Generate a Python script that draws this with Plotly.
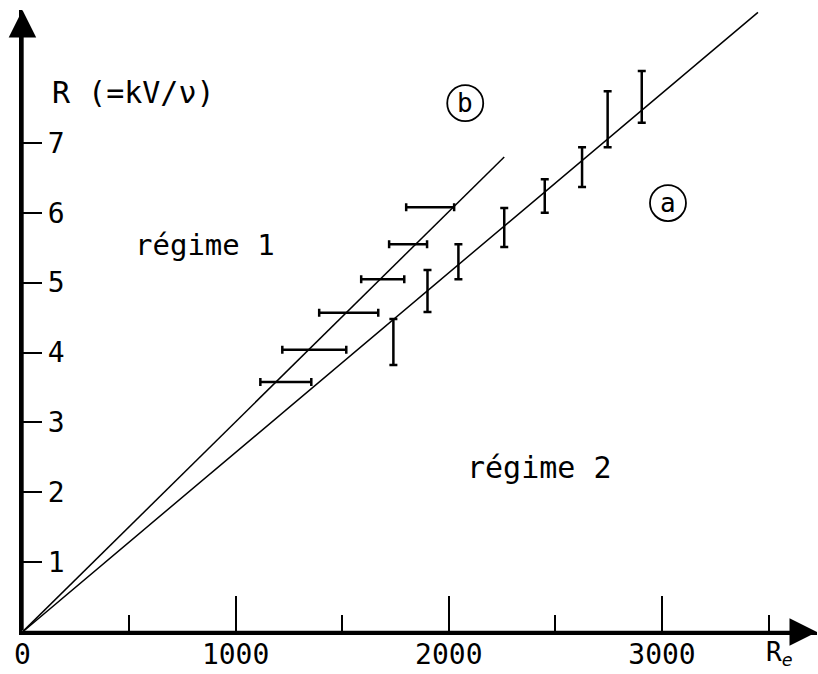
import plotly.graph_objects as go

# ---- data ----
# straight lines through the origin
line_a_re = [0, 3450]
line_a_r = [0, 8.87]
line_b_re = [0, 2260]
line_b_r = [0, 6.80]

# series (a): vertical error bars
va_re = [1740, 1900, 2045, 2260, 2450, 2625, 2745, 2905]
va_low = [3.82, 4.58, 5.05, 5.51, 6.00, 6.37, 6.94, 7.29]
va_high = [4.48, 5.18, 5.55, 6.07, 6.48, 6.94, 7.74, 8.03]

# series (b): horizontal error bars
hb_r = [3.58, 4.04, 4.57, 5.05, 5.55, 6.08]
hb_low = [1116, 1219, 1392, 1589, 1720, 1800]
hb_high = [1355, 1519, 1669, 1791, 1898, 2025]

x_tick_vals = [0, 1000, 2000, 3000]
x_tick_text = ["0", "1000", "2000", "3000"]
y_tick_vals = [1, 2, 3, 4, 5, 6, 7]
y_tick_text = ["1", "2", "3", "4", "5", "6", "7"]

FONT = "DejaVu Sans Mono, Liberation Mono, monospace"

va_mid = [(l + h) / 2 for l, h in zip(va_low, va_high)]
va_half = [(h - l) / 2 for l, h in zip(va_low, va_high)]
hb_mid = [(l + h) / 2 for l, h in zip(hb_low, hb_high)]
hb_half = [(h - l) / 2 for l, h in zip(hb_low, hb_high)]

fig = go.Figure()
fig.add_trace(go.Scatter(x=line_a_re, y=line_a_r, mode="lines",
                         line=dict(color="black", width=1.5), showlegend=False))
fig.add_trace(go.Scatter(x=line_b_re, y=line_b_r, mode="lines",
                         line=dict(color="black", width=1.5), showlegend=False))
fig.add_trace(go.Scatter(x=va_re, y=va_mid, mode="markers",
                         marker=dict(size=1, color="rgba(0,0,0,0)"),
                         error_y=dict(type="data", array=va_half, symmetric=True,
                                      color="black", thickness=2.5, width=4),
                         showlegend=False))
fig.add_trace(go.Scatter(x=hb_mid, y=hb_r, mode="markers",
                         marker=dict(size=1, color="rgba(0,0,0,0)"),
                         error_x=dict(type="data", array=hb_half, symmetric=True,
                                      color="black", thickness=2.5, width=4),
                         showlegend=False))

X_MIN = -2
X_MAX = 3727
Y_MAX = 8.903

annotations = [
    # axis arrows
    dict(x=X_MAX, y=0, ax=0, ay=0, xref="x", yref="y", axref="x", ayref="y",
         text="", showarrow=True, arrowhead=2, arrowsize=2.2, arrowwidth=2.5,
         arrowcolor="black"),
    dict(x=0, y=Y_MAX, ax=0, ay=0, xref="x", yref="y", axref="x", ayref="y",
         text="", showarrow=True, arrowhead=2, arrowsize=2.2, arrowwidth=2.5,
         arrowcolor="black"),
    dict(x=131, y=7.72, xref="x", yref="y", text="R (=kV/ν)", showarrow=False,
         xanchor="left", yanchor="middle", font=dict(family=FONT, size=30, color="black")),
    dict(x=520, y=5.54, xref="x", yref="y", text="régime 1", showarrow=False,
         xanchor="left", yanchor="middle", font=dict(family=FONT, size=29, color="black")),
    dict(x=2077, y=2.36, xref="x", yref="y", text="régime 2", showarrow=False,
         xanchor="left", yanchor="middle", font=dict(family=FONT, size=30, color="black")),
    # x-axis name, just below the axis line at its right end
    dict(x=3483, y=-0.034, xref="x", yref="paper", text="R<sub><i>e</i></sub>", showarrow=False,
         xanchor="left", yanchor="middle", borderpad=0,
         font=dict(family=FONT, size=26, color="black")),
    dict(x=2077, y=7.57, xref="x", yref="y", text="b", showarrow=False,
         xanchor="center", yanchor="middle", font=dict(family=FONT, size=26, color="black")),
    dict(x=3028, y=6.14, xref="x", yref="y", text="a", showarrow=False,
         xanchor="center", yanchor="middle", font=dict(family=FONT, size=26, color="black")),
]

shapes = [
    dict(type="circle", xref="x", yref="y", xsizemode="pixel", ysizemode="pixel",
         xanchor=2077, yanchor=7.57, x0=-18, x1=18, y0=-18, y1=18,
         line=dict(color="black", width=1.8)),
    dict(type="circle", xref="x", yref="y", xsizemode="pixel", ysizemode="pixel",
         xanchor=3028, yanchor=6.14, x0=-18, x1=18, y0=-18, y1=18,
         line=dict(color="black", width=1.8)),
]

fig.update_layout(
    width=818, height=674,
    margin=dict(l=22, r=1, t=10, b=42, pad=0, autoexpand=False),
    paper_bgcolor="white", plot_bgcolor="white",
    showlegend=False,
    annotations=annotations,
    shapes=shapes,
    font=dict(family=FONT, color="black"),
)
fig.update_xaxes(
    range=[X_MIN, X_MAX], showgrid=False, zeroline=False, automargin=False,
    showline=True, linewidth=2.5, linecolor="black",
    ticks="inside", ticklen=36, tickwidth=1.5, tickcolor="black",
    tickvals=x_tick_vals, ticktext=x_tick_text,
    ticklabelstandoff=-4,
    tickfont=dict(family=FONT, size=28, color="black"),
    minor=dict(ticks="inside", ticklen=17, tickwidth=1.5, tickcolor="black", dtick=500, tick0=0),
)
fig.update_yaxes(
    range=[0, Y_MAX], showgrid=False, zeroline=False, automargin=False,
    showline=True, linewidth=2.5, linecolor="black",
    ticks="inside", ticklen=20, tickwidth=2, tickcolor="black",
    tickvals=y_tick_vals, ticktext=y_tick_text,
    ticklabelstandoff=-51,
    tickfont=dict(family=FONT, size=28, color="black"),
)

# the page body has a default 8px margin; remove it so the figure sits at the window's corner
fig.write_html("out.html", config={"displayModeBar": False},
               post_script="document.body.style.margin='0';")
